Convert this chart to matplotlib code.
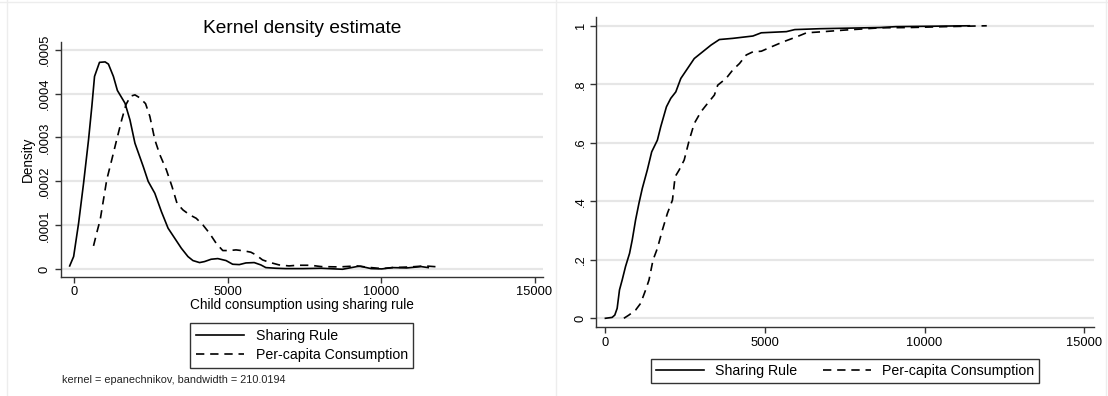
import matplotlib
matplotlib.use('Agg')
import matplotlib.pyplot as plt

plt.rcParams['font.family'] = ['Liberation Sans', 'DejaVu Sans']

# kernel density, sharing rule (solid)
kd_share_x = [-151, -22, 140, 302, 464, 572, 659, 821, 1004, 1112, 1274, 1404, 1652, 1814,
              1976, 2246, 2408, 2624, 2840, 3056, 3272, 3488, 3704, 3866, 4082, 4244, 4460,
              4676, 4946, 5162, 5378, 5594, 5864, 6080, 6242, 6566, 6890, 7465, 8047, 8744,
              9209, 9326, 9674, 10023, 10372, 10837, 11302, 11535]
kd_share_y = [0.0000076, 0.0000289, 0.000105, 0.000196, 0.000295, 0.000371, 0.000439,
              0.000471, 0.000472, 0.000467, 0.000439, 0.000407, 0.000378, 0.00034, 0.000287,
              0.000234, 0.0002, 0.000173, 0.000131, 0.0000935, 0.0000707, 0.0000479,
              0.0000289, 0.0000198, 0.0000152, 0.0000175, 0.0000228, 0.0000243, 0.0000198,
              0.0000114, 0.0000106, 0.0000144, 0.0000152, 0.0000099, 0.0000038, 0.0000023,
              0.0000015, 0.0000015, 0.0000023, 0.0, 0.0000061, 0.0000068, 0.0000015,
              0.0000008, 0.0000038, 0.000003, 0.0000061, 0.0000038]

# kernel density, per-capita consumption (dashed)
kd_pc_x = [626, 756, 842, 950, 1058, 1220, 1382, 1544, 1685, 1836, 1976, 2138, 2322, 2462,
           2624, 2786, 3002, 3186, 3348, 3542, 3758, 3974, 4190, 4406, 4622, 4838, 5054,
           5270, 5540, 5756, 5918, 6134, 6350, 6674, 6998, 7268, 7698, 8047, 8628, 9209,
           9674, 10023, 10372, 10953, 11419, 11884]
kd_pc_y = [0.0000532, 0.0000897, 0.000112, 0.000158, 0.000204, 0.000249, 0.000295, 0.00034,
           0.000375, 0.000394, 0.000397, 0.00039, 0.000377, 0.000348, 0.000295, 0.000261,
           0.000226, 0.000188, 0.00015, 0.000135, 0.000124, 0.000116, 0.000101, 0.0000821,
           0.0000593, 0.0000426, 0.0000426, 0.0000441, 0.0000418, 0.0000388, 0.0000327,
           0.0000213, 0.000016, 0.0000099, 0.0000076, 0.0000091, 0.0000091, 0.0000061,
           0.0000053, 0.0000076, 0.0000038, 0.0000015, 0.0000038, 0.0000053, 0.0000076,
           0.0000053]

# cumulative distributions
cdf_share_x = [21, 231, 314, 388, 461, 545, 650, 776, 860, 964, 1069, 1174, 1331, 1468, 1646,
               1751, 1929, 2065, 2222, 2379, 2589, 2799, 3061, 3323, 3585, 4004, 4633, 4895,
               5681, 5943, 6730, 8616, 9103, 10635, 11401]
cdf_share_y = [0, 0.003, 0.011, 0.034, 0.097, 0.131, 0.177, 0.222, 0.268, 0.336, 0.393, 0.444,
               0.507, 0.569, 0.609, 0.655, 0.723, 0.752, 0.774, 0.82, 0.854, 0.888, 0.911,
               0.934, 0.953, 0.957, 0.965, 0.976, 0.98, 0.987, 0.99, 0.994, 0.997, 0.999, 1.0]

cdf_pc_x = [598, 755, 964, 1122, 1279, 1384, 1509, 1646, 1803, 1960, 2117, 2201, 2327, 2484,
            2642, 2799, 3008, 3218, 3428, 3533, 3795, 4004, 4214, 4423, 4633, 4895, 5210,
            5577, 5996, 6310, 6730, 7463, 8616, 9540, 10635, 11947]
cdf_pc_y = [0, 0.011, 0.028, 0.051, 0.097, 0.131, 0.199, 0.239, 0.302, 0.359, 0.404, 0.484,
            0.507, 0.541, 0.609, 0.666, 0.706, 0.735, 0.763, 0.797, 0.82, 0.849, 0.871, 0.9,
            0.911, 0.913, 0.928, 0.945, 0.962, 0.976, 0.979, 0.985, 0.993, 0.994, 0.997, 1.0]

x_ticks = [0, 5000, 10000, 15000]
kd_ticks = [0, 0.0001, 0.0002, 0.0003, 0.0004, 0.0005]
kd_labels = ['0', '.0001', '.0002', '.0003', '.0004', '.0005']
cdf_ticks = [0, 0.2, 0.4, 0.6, 0.8, 1.0]
cdf_labels = ['0', '.2', '.4', '.6', '.8', '1']

fig = plt.figure(figsize=(11.08, 3.96), dpi=100)

# faint panel frames as in the screenshot
for xf in [7 / 1108, 556 / 1108, 1106 / 1108]:
    fig.add_artist(plt.Line2D([xf, xf], [0, 1], color='#ededed', lw=1))
fig.add_artist(plt.Line2D([0, 1], [1 - 2 / 396, 1 - 2 / 396], color='#ededed', lw=1))

ax1 = fig.add_axes([0.0548, 0.3013, 0.4352, 0.5934])
ax2 = fig.add_axes([0.5383, 0.1735, 0.4488, 0.7843])


def style(ax):
    for s in ['top', 'right']:
        ax.spines[s].set_visible(False)
    for s in ['left', 'bottom']:
        ax.spines[s].set_color('#333333')
        ax.spines[s].set_linewidth(1)
    ax.yaxis.grid(True, color='#e6e6e6', lw=1.6)
    ax.set_axisbelow(True)
    ax.tick_params(direction='out', length=4, width=1, color='#333333', labelsize=9.3,
                   pad=3)
    for lab in ax.get_yticklabels():
        lab.set_rotation(90)
        lab.set_va('center')


ax1.plot(kd_share_x, kd_share_y, color='black', lw=1.2, label='Sharing Rule')
ax1.plot(kd_pc_x, kd_pc_y, color='black', lw=1.2, ls=(0, (5, 3.5)), label='Per-capita Consumption')
ax1.set_xlim(-443, 15274)
ax1.set_ylim(-0.0000169, 0.000518)
ax1.set_xticks(x_ticks)
ax1.set_yticks(kd_ticks)
ax1.set_yticklabels(kd_labels)
style(ax1)
ax1.set_title('Kernel density estimate', fontsize=13.8, pad=6)
ax1.set_xlabel('Child consumption using sharing rule', fontsize=9.8, labelpad=0)
ax1.set_ylabel('Density', fontsize=9.8)
ax1.yaxis.set_label_coords(-0.054, 0.5)
ax1.legend(loc='center', bbox_to_anchor=(0.2724, 0.1275), bbox_transform=fig.transFigure,
           fontsize=10.2, handlelength=3.4, fancybox=False, edgecolor='#333333',
           framealpha=1, borderpad=0.4, labelspacing=0.4)
fig.text(62 / 1108, 1 - 380 / 396, 'kernel = epanechnikov, bandwidth = 210.0194',
         fontsize=7.8, va='center', ha='left', color='#222222')

ax2.plot(cdf_share_x, cdf_share_y, color='black', lw=1.2, label='Sharing Rule')
ax2.plot(cdf_pc_x, cdf_pc_y, color='black', lw=1.2, ls=(0, (5, 3.5)), label='Per-capita Consumption')
ax2.set_xlim(-260, 15291)
ax2.set_ylim(-0.0308, 1.031)
ax2.set_xticks(x_ticks)
ax2.set_yticks(cdf_ticks)
ax2.set_yticklabels(cdf_labels)
style(ax2)
ax2.legend(loc='center', bbox_to_anchor=(0.7626, 0.0636), bbox_transform=fig.transFigure,
           ncol=2, fontsize=10.2, handlelength=3.4, fancybox=False, edgecolor='#333333',
           framealpha=1, borderpad=0.35, columnspacing=1.8)

fig.savefig('out.png', dpi=100)
